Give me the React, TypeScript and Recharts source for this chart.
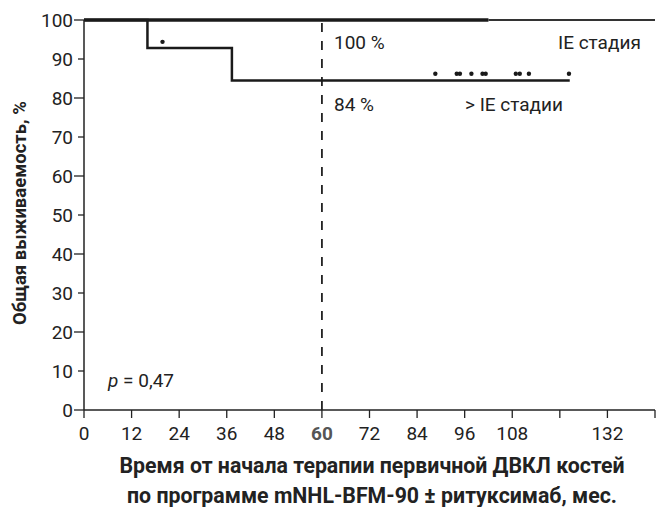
import React from 'react';
import {
  ComposedChart,
  Line,
  Scatter,
  XAxis,
  YAxis,
  ReferenceLine,
  Customized,
} from 'recharts';

// survival curves (months, %)
const ieStage = [
  { t: 0, v: 100 },
  { t: 102, v: 100 },
];
const overIeStage = [
  { t: 0, v: 100 },
  { t: 16, v: 92.8 },
  { t: 37.3, v: 84.5 },
  { t: 122.5, v: 84.5 },
];
// censored patients
const censored = [
  { t: 19.8, v: 94.4 },
  { t: 88.6, v: 86.2 },
  { t: 94, v: 86.2 },
  { t: 94.8, v: 86.2 },
  { t: 97.7, v: 86.2 },
  { t: 100.5, v: 86.2 },
  { t: 101.3, v: 86.2 },
  { t: 108.9, v: 86.2 },
  { t: 109.9, v: 86.2 },
  { t: 112.2, v: 86.2 },
  { t: 122.3, v: 86.2 },
];
const xTicks = [0, 12, 24, 36, 48, 60, 72, 84, 96, 108, 120, 132, 144];
const hiddenXLabels = [120, 144];
const yTicks = [0, 10, 20, 30, 40, 50, 60, 70, 80, 90, 100];

const font = 'Roboto, "Noto Sans", sans-serif';

const XTick = (props: any) => {
  const { x, y, payload } = props;
  if (hiddenXLabels.includes(payload.value)) return null;
  const is60 = payload.value === 60;
  return (
    <text
      x={x}
      y={y + 20}
      textAnchor="middle"
      fontFamily={font}
      fontSize={19}
      fontWeight={is60 ? 700 : 400}
      fill={is60 ? '#555' : '#222'}
    >
      {payload.value}
    </text>
  );
};

const YTick = (props: any) => {
  const { x, y, payload } = props;
  return (
    <g>
      <line
        x1={payload.value % 20 === 0 ? x : x + 4}
        x2={x + 10}
        y1={y}
        y2={y}
        stroke="#222"
        strokeWidth={1.3}
      />
      <text
        x={x - 1}
        y={y + 7}
        textAnchor="end"
        fontFamily={font}
        fontSize={19}
        fill="#222"
      >
        {payload.value}
      </text>
    </g>
  );
};

const Texts = () => (
  <g fontFamily={font} fill="#222">
    <text x={334} y={49} fontSize={19}>100 %</text>
    <text x={558} y={49} fontSize={19}>IE стадия</text>
    <text x={334} y={111} fontSize={19}>84 %</text>
    <text x={465} y={111} fontSize={19}>&gt; IE стадии</text>
    <text x={108} y={387} fontSize={19}>
      <tspan fontStyle="italic">p</tspan> = 0,47
    </text>
    <text
      x={20}
      y={213}
      transform="rotate(-90 20 213)"
      textAnchor="middle"
      fontSize={18.5}
      fontWeight={700}
      dy={6}
    >
      Общая выживаемость, %
    </text>
    <text x={372} y={473} textAnchor="middle" fontSize={21.3} fontWeight={700}>
      Время от начала терапии первичной ДВКЛ костей
    </text>
    <text x={372} y={503} textAnchor="middle" fontSize={21.3} fontWeight={700}>
      по программе mNHL-BFM-90 ± ритуксимаб, мес.
    </text>
  </g>
);

export default function App() {
  return (
    <div style={{ position: 'absolute', left: 0, top: 0, background: '#fff' }}>
      <ComposedChart
        width={660}
        height={507}
        margin={{ top: 20, right: 5, bottom: 67, left: 0 }}
      >
        <XAxis
          type="number"
          dataKey="t"
          domain={[0, 144]}
          ticks={xTicks}
          interval={0}
          tick={<XTick />}
          tickSize={8}
          height={30}
          axisLine={{ stroke: '#222', strokeWidth: 1.5 }}
          tickLine={{ stroke: '#222', strokeWidth: 1.3 }}
        />
        {/* thin frame line along the top of the plot */}
        <XAxis
          xAxisId="top"
          orientation="top"
          type="number"
          domain={[0, 144]}
          height={0}
          tick={false}
          tickLine={false}
          axisLine={{ stroke: '#333', strokeWidth: 2.2 }}
        />
        <YAxis
          type="number"
          dataKey="v"
          domain={[0, 100]}
          ticks={yTicks}
          interval={0}
          width={84}
          tick={<YTick />}
          tickLine={false}
          tickSize={8}
          axisLine={{ stroke: '#222', strokeWidth: 1.5 }}
        />
        <ReferenceLine
          x={60}
          stroke="#222"
          strokeWidth={1.8}
          strokeDasharray="9 9"
        />
        <ReferenceLine
          segment={[
            { x: 102, y: 100 },
            { x: 144, y: 100 },
          ]}
          stroke="#333"
          strokeWidth={2.2}
          ifOverflow="visible"
        />
        <Line
          data={ieStage}
          dataKey="v"
          type="stepAfter"
          stroke="#1a1a1a"
          strokeWidth={3.5}
          dot={false}
          isAnimationActive={false}
        />
        <Line
          data={overIeStage}
          dataKey="v"
          type="stepAfter"
          stroke="#1a1a1a"
          strokeWidth={2.5}
          dot={false}
          isAnimationActive={false}
        />
        <Scatter
          data={censored}
          dataKey="v"
          fill="#1a1a1a"
          shape={(p: any) => <circle cx={p.cx} cy={p.cy} r={2.2} fill="#1a1a1a" />}
          isAnimationActive={false}
        />
        <Customized component={Texts} />
      </ComposedChart>
    </div>
  );
}
